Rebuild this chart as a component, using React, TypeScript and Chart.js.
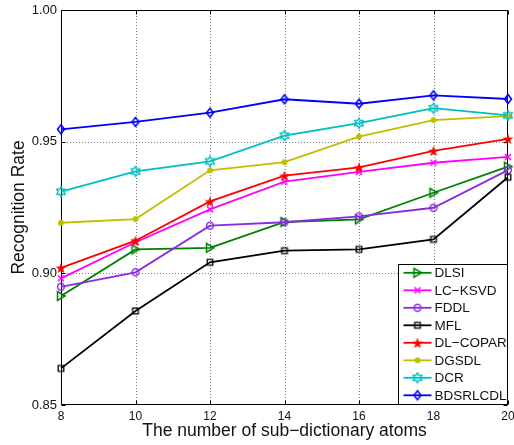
import React, { useEffect, useRef } from "react";
import { Chart, registerables } from "chart.js";

Chart.register(...registerables);

// ---- data ----
const atoms = [8, 10, 12, 14, 16, 18, 20];
const yTickValues = [0.85, 0.9, 0.95, 1.0];

const seriesNames = ["DLSI", "LC\u2212KSVD", "FDDL", "MFL", "DL\u2212COPAR", "DGSDL", "DCR", "BDSRLCDL"];
const dlsi = [0.8914, 0.9091, 0.9097, 0.9195, 0.9205, 0.9306, 0.9405];
const lcKsvd = [0.8981, 0.9118, 0.9243, 0.9348, 0.9385, 0.942, 0.9442];
const fddl = [0.8949, 0.9004, 0.9181, 0.9194, 0.9216, 0.9249, 0.9392];
const mfl = [0.8639, 0.8857, 0.9042, 0.9086, 0.9091, 0.9129, 0.9365];
const dlCopar = [0.9021, 0.9124, 0.9273, 0.9371, 0.9402, 0.9465, 0.9511];
const dgsdl = [0.9192, 0.9206, 0.9391, 0.9422, 0.9519, 0.9582, 0.9597];
const dcr = [0.931, 0.9387, 0.9425, 0.9523, 0.957, 0.9627, 0.96];
const bdsrlcdl = [0.9547, 0.9575, 0.961, 0.9661, 0.9644, 0.9676, 0.9662];

const seriesValues = [dlsi, lcKsvd, fddl, mfl, dlCopar, dgsdl, dcr, bdsrlcdl];
const seriesColors = ["#008000", "#ff00ff", "#8a2be2", "#000000", "#ff0000", "#bfbf00", "#00bfbf", "#0000ff"];
const seriesMarkers = ["triRight", "x", "circle", "square", "pentagram", "dot", "hexagram", "diamond"];

const FONT = '"Liberation Sans", Arial, Helvetica, sans-serif';
const xTitle = "The number of sub\u2212dictionary atoms";
const yTitle = "Recognition Rate";

function makeMarker(kind: string, color: string): HTMLCanvasElement {
  const cv = document.createElement("canvas");
  cv.width = 16;
  cv.height = 16;
  const g = cv.getContext("2d")!;
  const c = 8;
  g.strokeStyle = color;
  g.fillStyle = color;
  g.lineWidth = 1.5;
  g.lineJoin = "miter";
  g.beginPath();
  if (kind === "triRight") {
    g.moveTo(c + 4, c);
    g.lineTo(c - 3.5, c - 4.5);
    g.lineTo(c - 3.5, c + 4.5);
    g.closePath();
    g.stroke();
  } else if (kind === "x") {
    g.moveTo(c - 3, c - 3);
    g.lineTo(c + 3, c + 3);
    g.moveTo(c + 3, c - 3);
    g.lineTo(c - 3, c + 3);
    g.lineWidth = 1.6;
    g.stroke();
  } else if (kind === "circle") {
    g.arc(c, c, 3.4, 0, Math.PI * 2);
    g.stroke();
  } else if (kind === "square") {
    g.lineWidth = 1.3;
    g.rect(c - 2.8, c - 2.8, 5.6, 5.6);
    g.stroke();
  } else if (kind === "pentagram") {
    for (let i = 0; i < 10; i++) {
      const r = i % 2 === 0 ? 5.8 : 2.3;
      const a = -Math.PI / 2 + (i * Math.PI) / 5;
      const px = c + r * Math.cos(a);
      const py = c + 0.6 + r * Math.sin(a);
      if (i === 0) g.moveTo(px, py);
      else g.lineTo(px, py);
    }
    g.closePath();
    g.fill();
  } else if (kind === "dot") {
    g.arc(c, c, 2.9, 0, Math.PI * 2);
    g.fill();
  } else if (kind === "hexagram") {
    for (let i = 0; i < 12; i++) {
      const r = i % 2 === 0 ? 5 : 2.9;
      const a = -Math.PI / 2 + (i * Math.PI) / 6;
      const px = c + r * Math.cos(a);
      const py = c + r * Math.sin(a);
      if (i === 0) g.moveTo(px, py);
      else g.lineTo(px, py);
    }
    g.closePath();
    g.lineWidth = 1.4;
    g.stroke();
  } else if (kind === "diamond") {
    g.moveTo(c, c - 4.4);
    g.lineTo(c + 3.5, c);
    g.lineTo(c, c + 4.4);
    g.lineTo(c - 3.5, c);
    g.closePath();
    g.lineWidth = 1.6;
    g.stroke();
  }
  return cv;
}

export default function App() {
  const ref = useRef<HTMLCanvasElement | null>(null);

  useEffect(() => {
    const canvas = ref.current;
    if (!canvas) return;
    const markers = seriesMarkers.map((m, i) => makeMarker(m, seriesColors[i]));

    const framePlugin = {
      id: "frame",
      beforeDatasetsDraw(chart: any) {
        const { ctx, chartArea: a, scales } = chart;
        ctx.save();
        // dotted grid
        ctx.strokeStyle = "#808080";
        ctx.lineWidth = 1;
        ctx.setLineDash([1, 2]);
        atoms.slice(1, -1).forEach((v) => {
          const x = Math.round(scales.x.getPixelForValue(v)) + 0.5;
          ctx.beginPath();
          ctx.moveTo(x, a.top);
          ctx.lineTo(x, a.bottom);
          ctx.stroke();
        });
        yTickValues.slice(1, -1).forEach((v) => {
          const y = Math.round(scales.y.getPixelForValue(v)) + 0.5;
          ctx.beginPath();
          ctx.moveTo(a.left, y);
          ctx.lineTo(a.right, y);
          ctx.stroke();
        });
        ctx.setLineDash([]);
        ctx.strokeStyle = "#000";
        const L = Math.round(a.left) + 0.5;
        const R = Math.round(a.right) - 0.5;
        const T = Math.round(a.top) + 0.5;
        const B = Math.round(a.bottom) - 0.5;
        ctx.beginPath();
        ctx.rect(L, T, R - L, B - T);
        ctx.stroke();
        const tl = 4;
        ctx.beginPath();
        atoms.forEach((v) => {
          const x = Math.round(scales.x.getPixelForValue(v)) + 0.5;
          ctx.moveTo(x, B);
          ctx.lineTo(x, B - tl);
          ctx.moveTo(x, T);
          ctx.lineTo(x, T + tl);
        });
        yTickValues.forEach((v) => {
          const y = Math.round(scales.y.getPixelForValue(v)) + 0.5;
          ctx.moveTo(L, y);
          ctx.lineTo(L + tl, y);
          ctx.moveTo(R, y);
          ctx.lineTo(R - tl, y);
        });
        ctx.stroke();
        ctx.restore();
      },
    };

    const legendPlugin = {
      id: "boxLegend",
      afterDraw(chart: any) {
        const { ctx, chartArea: a } = chart;
        const w = 110;
        const h = 141;
        const left = Math.round(a.right - w) + 0.5;
        const top = Math.round(a.bottom - h) + 0.5;
        ctx.save();
        ctx.fillStyle = "#fff";
        ctx.fillRect(left, top, w - 1, h - 1);
        ctx.strokeStyle = "#000";
        ctx.lineWidth = 1;
        ctx.strokeRect(left, top, w - 1, h - 1);
        ctx.font = `13.5px ${FONT}`;
        ctx.textBaseline = "middle";
        ctx.textAlign = "left";
        chart.data.datasets.forEach((ds: any, i: number) => {
          const cy = top + 8.3 + i * 17.5;
          ctx.strokeStyle = ds.borderColor;
          ctx.lineWidth = 1.8;
          ctx.beginPath();
          ctx.moveTo(left + 5, cy);
          ctx.lineTo(left + 33, cy);
          ctx.stroke();
          ctx.drawImage(markers[i], left + 19 - 8, cy - 8);
          ctx.fillStyle = "#111";
          ctx.fillText(ds.label, left + 36, cy + 0.5);
        });
        ctx.restore();
      },
    };

    const datasets = seriesNames.map((name, i) => ({
      label: name,
      data: atoms.map((x, j) => ({ x, y: seriesValues[i][j] })),
      borderColor: seriesColors[i],
      backgroundColor: seriesColors[i],
      borderWidth: 1.8,
      pointStyle: markers[i],
      pointRadius: 3,
      tension: 0,
      clip: false as any,
      order: seriesNames.length - i,
    }));

    const chart = new Chart(canvas, {
      type: "line",
      data: { datasets },
      options: {
        responsive: false,
        animation: false,
        devicePixelRatio: 1,
        layout: { padding: { left: 0, right: 6, top: 10, bottom: 0 } },
        plugins: { legend: { display: false }, tooltip: { enabled: false } },
        scales: {
          x: {
            type: "linear",
            min: 8,
            max: 20,
            afterBuildTicks: (s: any) => {
              s.ticks = atoms.map((v) => ({ value: v }));
            },
            grid: { display: false, drawTicks: false },
            border: { display: false },
            ticks: {
              padding: 4,
              autoSkip: false,
              maxRotation: 0,
              color: "#111",
              font: { family: FONT, size: 12 },
              callback: (v: any) => String(v),
            },
            title: {
              display: true,
              text: xTitle,
              color: "#111",
              font: { family: FONT, size: 17.5 },
              padding: { top: 0, bottom: 3 },
            },
            afterFit: (s: any) => {
              s.height = 40;
              s.paddingLeft = 0;
              s.paddingRight = 0;
            },
          },
          y: {
            type: "linear",
            min: 0.85,
            max: 1.0,
            afterBuildTicks: (s: any) => {
              s.ticks = yTickValues.map((v) => ({ value: v }));
            },
            grid: { display: false, drawTicks: false },
            border: { display: false },
            ticks: {
              padding: 4,
              autoSkip: false,
              color: "#111",
              font: { family: FONT, size: 13 },
              callback: (v: any) => Number(v).toFixed(2),
            },
            title: {
              display: true,
              text: yTitle,
              color: "#111",
              font: { family: FONT, size: 17.5 },
              padding: { top: 8.5, bottom: 0 },
            },
            afterFit: (s: any) => {
              s.width = 61;
              s.paddingTop = 0;
              s.paddingBottom = 0;
            },
          },
        },
      } as any,
      plugins: [framePlugin, legendPlugin],
    });

    return () => chart.destroy();
  }, []);

  return (
    <div style={{ position: "fixed", left: 0, top: 0, width: 514, height: 445, background: "#fff" }}>
      <canvas ref={ref} width={514} height={445} style={{ display: "block", width: 514, height: 445 }} />
    </div>
  );
}
